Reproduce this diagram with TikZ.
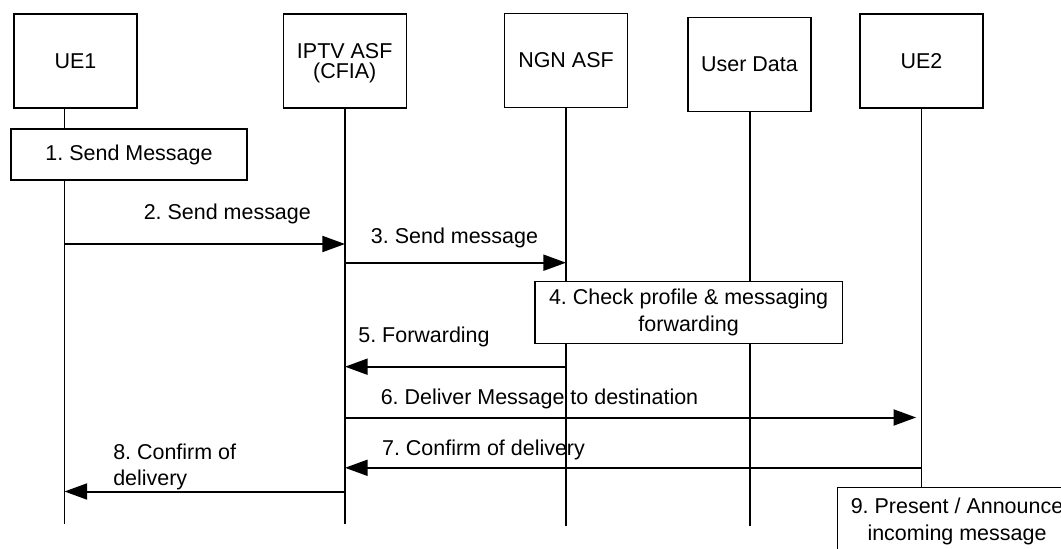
\documentclass[tikz,border=0pt]{standalone}
\usepackage{fontspec}
\setmainfont{Liberation Sans}
\usetikzlibrary{arrows.meta}
\frenchspacing
\begin{document}
\begin{tikzpicture}[x=0.75pt,y=-0.75pt,
  font=\fontsize{16.1}{20}\selectfont,
  head/.style={draw, line width=1pt, minimum width=92.25pt, minimum height=70.5pt, align=center, inner sep=0pt},
  actbox/.style={draw, fill=white, line width=1pt, align=center, inner sep=0pt},
  life/.style={line width=1pt},
  msg/.style={line width=1.5pt, -{Triangle[length=17pt,width=12pt]}},
  lbl/.style={inner sep=0pt, anchor=center}]
\useasboundingbox (0,0) rectangle (1061,549);
\clip (0,0) rectangle (1061,549);
% headers
\node[head] (ue1) at (75.5,61) {UE1};
\node[head] (iptv) at (344.7,61) {};
\node[inner sep=0pt, align=center, font=\fontsize{16.1}{15.2}\selectfont] (iptvt) at (344.7,63) {IPTV ASF\\(CFIA)};
\node[head] (ngn) at (566,60.5) {NGN ASF};
\node[head] (ud) at (749.5,64.3) {User Data};
\node[head] (ue2) at (921.5,61) {UE2};
% lifeline bottoms
\coordinate (b1) at (64.5,523.6);
\coordinate (b2) at (345,523.6);
\coordinate (b3) at (566,526);
\coordinate (b4) at (750,526);
\coordinate (b5) at (921.5,540);
% action boxes
\node[actbox, minimum width=177pt, minimum height=38.25pt] (s1) at (129,154.5) {1. Send Message};
\node[actbox, minimum width=230.5pt, minimum height=46.2pt] (s4) at (688.6,312.5) {4. Check profile \& messaging\\forwarding};
\node[actbox, minimum width=179.6pt, minimum height=51.3pt] (s9) at (957,521.5) {9. Present / Announce\\incoming message};
% lifelines
\draw[life] (ue1.south -| b1) -- (s1.north -| b1);
\draw[life] (s1.south -| b1) -- (b1);
\draw[life] (iptv.south -| b2) -- (b2);
\draw[life] (ngn.south -| b3) -- (s4.north -| b3);
\draw[life] (s4.south -| b3) -- (b3);
\draw[life] (ud.south -| b4) -- (s4.north -| b4);
\draw[life] (s4.south -| b4) -- (b4);
\draw[life] (ue2.south -| b5) -- (s9.north -| b5);
% messages
\draw[msg] (b1 |- 0,244) -- (b2 |- 0,244);
\node[lbl] (m2) at (227.3,214) {2. Send message};
\draw[msg] (b2 |- 0,262.7) -- (b3 |- 0,262.7);
\node[lbl] (m3) at (454.5,238) {3. Send message};
\draw[msg] (b3 |- 0,366.7) -- (b2 |- 0,366.7);
\node[lbl] (m5) at (424,337) {5. Forwarding};
\draw[msg, shorten >=4pt] (b2 |- 0,417.5) -- (b5 |- 0,417.5);
\node[lbl] (m6) at (539.5,398.5) {6. Deliver Message to destination};
\draw[msg] (b5 |- 0,467.8) -- (b2 |- 0,467.8);
\node[lbl] (m7) at (483.5,449.5) {7. Confirm of delivery};
\draw[msg] (b2 |- 0,491.5) -- (b1 |- 0,491.5);
\node[inner sep=0pt, anchor=north west, align=left] (m8) at (113,443.5) {8. Confirm of\\delivery};
\end{tikzpicture}
\end{document}
